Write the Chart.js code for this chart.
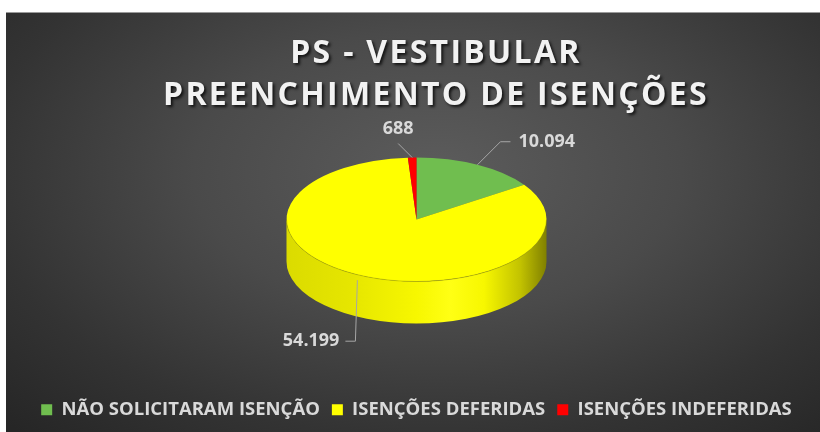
<!DOCTYPE html>
<html>
<head>
<meta charset="utf-8">
<script src="https://cdn.jsdelivr.net/npm/chart.js@4.4.1/dist/chart.umd.min.js"></script>
<style>
  html, body { margin: 0; padding: 0; background: #fff; }
  #wrap {
    position: absolute; left: 6px; top: 12px; width: 814px; height: 420px;
    border-top: 1px solid #9a9a9a; box-sizing: border-box;
    background: radial-gradient(ellipse 75% 85% at 53% 38%, #5c5c5c 0%, #4a4a4a 40%, #333 75%, #262626 100%);
  }
</style>
</head>
<body>
<div id="wrap"><canvas id="chart"></canvas></div>
<script>
const titleLines = ['PS - VESTIBULAR', 'PREENCHIMENTO DE ISENÇÕES'];
const categories = ['NÃO SOLICITARAM ISENÇÃO', 'ISENÇÕES DEFERIDAS', 'ISENÇÕES INDEFERIDAS'];
const values = [10094, 54199, 688];
const sliceColors = ['#70BE4F', '#FFFF00', '#FF0000'];

const FONT = "'Open Sans', 'DejaVu Sans', sans-serif";
const SQUASH = 62 / 130;   // ellipse ratio of the tilted pie
const DEPTH = 42;          // thickness of the pie wall

// leader line points and label position, relative to the slice anchor
const leaders = [
    { pts: [[0, 0], [23, -23], [33, -23]], text: [41, -23], align: 'left' },
    { pts: [[-2, 5], [-4, 66], [-14, 66]], text: [-20, 66], align: 'right' },
    { pts: [[0, 0], [-14, -14]], text: [-14, -29], align: 'center' },
];

function fmt(v) {
    return String(v).replace(/\B(?=(\d{3})+(?!\d))/g, '.');
}

function shade(hex, f) {
    const n = parseInt(hex.slice(1), 16);
    let c = [(n >> 16) & 255, (n >> 8) & 255, n & 255];
    c = c.map(v => f <= 1 ? v * f : v + (255 - v) * (f - 1));
    return `rgb(${c.map(v => Math.round(v)).join(',')})`;
}

const pie3d = {
    id: 'pie3d',
    beforeDatasetsDraw(chart) {
        const ctx = chart.ctx;
        const arcs = chart.getDatasetMeta(0).data;
        const { x: cx, y: cy, outerRadius: rx } = arcs[0];
        const ry = rx * SQUASH;

        arcs.forEach((arc, i) => {
            const g = ctx.createLinearGradient(cx - rx, 0, cx + rx, 0);
            [[0, 0.86], [0.25, 0.9], [0.5, 0.97], [0.63, 1.08], [0.76, 0.97], [0.9, 0.76], [1, 0.5]]
                .forEach(([p, f]) => g.addColorStop(p, shade(sliceColors[i], f)));
            for (let k = -1; k <= 1; k++) {
                const lo = Math.max(arc.startAngle, 2 * Math.PI * k);
                const hi = Math.min(arc.endAngle, 2 * Math.PI * k + Math.PI);
                if (hi <= lo) continue;
                ctx.beginPath();
                ctx.ellipse(cx, cy, rx, ry, 0, lo, hi, false);
                ctx.ellipse(cx, cy + DEPTH, rx, ry, 0, hi, lo, true);
                ctx.closePath();
                ctx.fillStyle = g;
                ctx.fill();
            }
        });

        ctx.save();
        ctx.translate(cx, cy);
        ctx.scale(1, SQUASH);
        ctx.translate(-cx, -cy);
    },
    afterDatasetsDraw(chart) {
        const ctx = chart.ctx;
        ctx.restore();

        const arcs = chart.getDatasetMeta(0).data;
        const { x: cx, y: cy, outerRadius: rx } = arcs[0];
        const ry = rx * SQUASH;

        // faint edge between top face and wall
        ctx.save();
        ctx.strokeStyle = 'rgba(120,120,0,0.35)';
        ctx.lineWidth = 1;
        ctx.beginPath();
        ctx.ellipse(cx, cy, rx, ry, 0, 0, Math.PI, false);
        ctx.stroke();

        ctx.font = `bold 18px ${FONT}`;
        ctx.textBaseline = 'middle';
        arcs.forEach((arc, i) => {
            const mid = (arc.startAngle + arc.endAngle) / 2;
            const ax = cx + rx * Math.cos(mid);
            const ay = cy + ry * Math.sin(mid);
            const l = leaders[i];
            ctx.strokeStyle = '#a6a6a6';
            ctx.beginPath();
            l.pts.forEach(([dx, dy], j) => {
                if (j === 0) ctx.moveTo(ax + dx, ay + dy);
                else ctx.lineTo(ax + dx, ay + dy);
            });
            ctx.stroke();
            ctx.fillStyle = '#d9d9d9';
            ctx.textAlign = l.align;
            ctx.fillText(fmt(values[i]), ax + l.text[0], ay + l.text[1]);
        });
        ctx.restore();
    },
    afterDraw(chart) {
        const ctx = chart.ctx;
        ctx.save();
        ctx.font = `bold 32px ${FONT}`;
        ctx.letterSpacing = '2.3px';
        ctx.textAlign = 'center';
        ctx.textBaseline = 'alphabetic';
        ctx.fillStyle = '#f2f2f2';
        ctx.shadowColor = 'rgba(0,0,0,0.75)';
        ctx.shadowOffsetX = 2;
        ctx.shadowOffsetY = 2;
        ctx.shadowBlur = 3;
        ctx.fillText(titleLines[0], 430, 50);
        ctx.fillText(titleLines[1], 430, 92);
        ctx.restore();
    }
};

Chart.defaults.font.family = FONT;

new Chart(document.getElementById('chart'), {
    type: 'pie',
    data: {
        labels: categories,
        datasets: [{
            data: values,
            backgroundColor: sliceColors,
            borderWidth: 0,
        }]
    },
    options: {
        responsive: true,
        maintainAspectRatio: false,
        animation: false,
        radius: 130,
        layout: { padding: { left: 10, right: 3, top: 37.5, bottom: 3 } },
        plugins: {
            title: { display: false },
            tooltip: { enabled: false },
            legend: {
                position: 'bottom',
                labels: {
                    color: '#d9d9d9',
                    boxWidth: 11,
                    boxHeight: 11,
                    padding: 12,
                    font: { size: 18.5, weight: 'bold', family: FONT },
                }
            }
        }
    },
    plugins: [pie3d]
});
</script>
</body>
</html>
